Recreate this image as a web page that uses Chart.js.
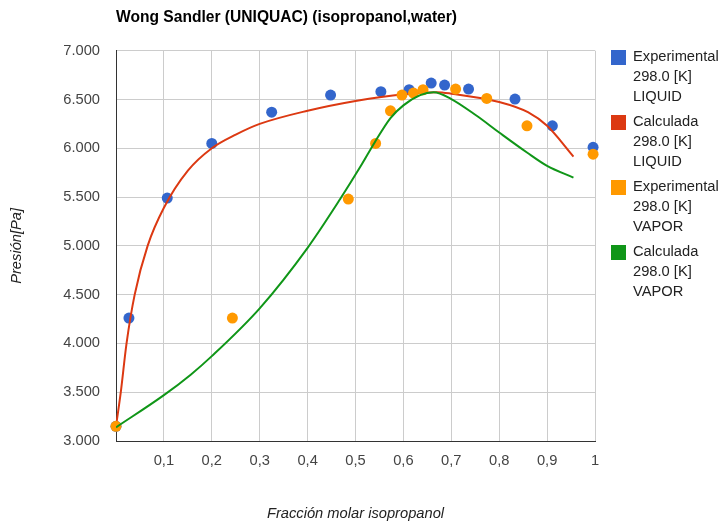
<!DOCTYPE html>
<html lang="es">
<head>
  <meta charset="UTF-8">
  <title>Wong Sandler (UNIQUAC) (isopropanol,water)</title>
  <script src="https://cdn.jsdelivr.net/npm/chart.js"></script>
  <style>
    body { margin: 0; background: #fff; }
    #wrap { width: 722px; height: 523px; }
  </style>
</head>
<body>
<div id="wrap"><canvas id="chart" width="722" height="523"></canvas></div>
<script>
  // experimental liquid (blue points)
  const expLiqX = [0.0, 0.027, 0.107, 0.2, 0.325, 0.448, 0.553, 0.612, 0.658, 0.686, 0.736, 0.833, 0.911, 0.996];
  const expLiqY = [3.15, 4.26, 5.49, 6.05, 6.37, 6.545, 6.58, 6.6, 6.668, 6.648, 6.607, 6.504, 6.23, 6.01];

  // calculated liquid (red line)
  const calcLiqX = [0, 0.01, 0.022, 0.039, 0.066, 0.1, 0.15, 0.2, 0.25, 0.3, 0.4, 0.5, 0.6, 0.67, 0.7, 0.8, 0.86, 0.9, 0.955];
  const calcLiqY = [3.15, 3.5, 4.0, 4.5, 5.0, 5.39, 5.77, 6.0, 6.14, 6.25, 6.385, 6.485, 6.555, 6.575, 6.56, 6.475, 6.37, 6.23, 5.915];

  // experimental vapor (orange points)
  const expVapX = [0.0, 0.243, 0.485, 0.542, 0.573, 0.597, 0.621, 0.641, 0.709, 0.774, 0.858, 0.996];
  const expVapY = [3.15, 4.26, 5.48, 6.05, 6.384, 6.545, 6.566, 6.6, 6.607, 6.511, 6.23, 5.94];

  // calculated vapor (green line)
  const calcVapX = [0, 0.1, 0.156, 0.2, 0.3, 0.4, 0.468, 0.51, 0.54, 0.573, 0.6, 0.635, 0.663, 0.7, 0.753, 0.8, 0.858, 0.9, 0.955];
  const calcVapY = [3.14, 3.47, 3.68, 3.87, 4.36, 4.98, 5.48, 5.81, 6.06, 6.31, 6.44, 6.545, 6.575, 6.505, 6.333, 6.162, 5.957, 5.82, 5.70];

  const seriesNames = [
    ['Experimental', '298.0 [K]', 'LIQUID'],
    ['Calculada', '298.0 [K]', 'LIQUID'],
    ['Experimental', '298.0 [K]', 'VAPOR'],
    ['Calculada', '298.0 [K]', 'VAPOR']
  ];
  const colors = ['#3366cc', '#dc3912', '#ff9900', '#109618'];

  const xTicks = [0, 0.1, 0.2, 0.3, 0.4, 0.5, 0.6, 0.7, 0.8, 0.9, 1];
  const yTicks = [3, 3.5, 4, 4.5, 5, 5.5, 6, 6.5, 7];

  function pts(xs, ys) {
    return xs.map((x, i) => ({ x: x, y: ys[i] }));
  }

  const FONT = 'Arial, "Liberation Sans", sans-serif';

  // legend with three text lines per entry
  const sideLegend = {
    id: 'sideLegend',
    afterDraw(chart) {
      const ctx = chart.ctx;
      ctx.save();
      ctx.font = '14.7px ' + FONT;
      ctx.textBaseline = 'middle';
      ctx.textAlign = 'left';
      seriesNames.forEach((lines, i) => {
        const top = 57 + i * 65;
        ctx.fillStyle = colors[i];
        ctx.fillRect(611, top - 7, 15, 15);
        ctx.fillStyle = '#222';
        lines.forEach((t, j) => ctx.fillText(t, 633, top + j * 20));
      });
      ctx.restore();
    }
  };

  const ctx = document.getElementById('chart').getContext('2d');
  new Chart(ctx, {
    type: 'scatter',
    data: {
      datasets: [
        {
          label: seriesNames[0].join(' '),
          data: pts(expLiqX, expLiqY),
          backgroundColor: colors[0],
          borderWidth: 0,
          pointRadius: 5.5,
          showLine: false,
          clip: false,
          order: 4
        },
        {
          label: seriesNames[1].join(' '),
          data: pts(calcLiqX, calcLiqY),
          borderColor: colors[1],
          backgroundColor: colors[1],
          borderWidth: 2,
          pointRadius: 0,
          showLine: true,
          cubicInterpolationMode: 'monotone',
          order: 3
        },
        {
          label: seriesNames[2].join(' '),
          data: pts(expVapX, expVapY),
          backgroundColor: colors[2],
          borderWidth: 0,
          pointRadius: 5.5,
          showLine: false,
          clip: false,
          order: 2
        },
        {
          label: seriesNames[3].join(' '),
          data: pts(calcVapX, calcVapY),
          borderColor: colors[3],
          backgroundColor: colors[3],
          borderWidth: 2,
          pointRadius: 0,
          showLine: true,
          cubicInterpolationMode: 'monotone',
          order: 1
        }
      ]
    },
    options: {
      responsive: false,
      animation: false,
      layout: { padding: { top: 0, right: 127, left: 0, bottom: 0 } },
      plugins: {
        legend: { display: false },
        tooltip: { enabled: false },
        title: {
          display: true,
          text: 'Wong Sandler (UNIQUAC) (isopropanol,water)',
          align: 'start',
          fullSize: false,
          color: '#000',
          font: { family: FONT, size: 15.6, weight: 'bold' },
          padding: { top: 8, bottom: 24 }
        }
      },
      scales: {
        x: {
          type: 'linear',
          min: 0,
          max: 1,
          afterFit: (s) => { s.height = 82; },
          afterBuildTicks: (s) => { s.ticks = xTicks.map(v => ({ value: v })); },
          ticks: {
            autoSkip: false,
            maxRotation: 0,
            padding: 11,
            color: '#444',
            font: { family: FONT, size: 14.7 },
            callback: (v) => v === 0 ? '' : (v === 1 ? '1' : v.toFixed(1).replace('.', ','))
          },
          grid: { color: '#cccccc', drawTicks: false },
          border: { display: true, color: '#333', width: 1 },
          title: {
            display: true,
            text: 'Fracción molar isopropanol',
            color: '#222',
            font: { family: FONT, size: 14.7, style: 'italic' },
            padding: { top: 0, bottom: 0 }
          }
        },
        y: {
          type: 'linear',
          min: 3,
          max: 7,
          afterFit: (s) => { s.width = 116; },
          afterBuildTicks: (s) => { s.ticks = yTicks.map(v => ({ value: v })); },
          ticks: {
            padding: 16,
            color: '#444',
            font: { family: FONT, size: 14.7 },
            callback: (v) => v.toFixed(3)
          },
          grid: { color: '#cccccc', drawTicks: false },
          border: { display: true, color: '#333', width: 1 },
          title: {
            display: true,
            text: 'Presión[Pa]',
            color: '#222',
            font: { family: FONT, size: 14.7, style: 'italic' },
            padding: { top: 8, bottom: 0 }
          }
        }
      }
    },
    plugins: [sideLegend]
  });
</script>
</body>
</html>
